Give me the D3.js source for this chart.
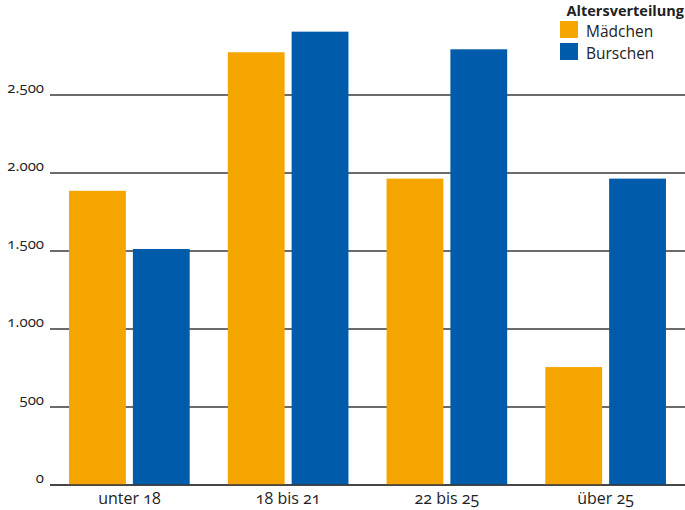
<!DOCTYPE html>
<html><head><meta charset="utf-8">
<script src="https://cdn.jsdelivr.net/npm/d3@7"></script>
<style>
body{margin:0;background:#fff;}
text{font-family:"Open Sans","Noto Sans",sans-serif;font-variant-numeric:oldstyle-nums;}
</style></head>
<body><svg id="c" width="685" height="510"></svg>
<script>
const categories = ["unter 18","18 bis 21","22 bis 25","über 25"];
const seriesNames = ["Mädchen","Burschen"];
const maedchen = [1886, 2774, 1964, 756];
const burschen = [1513, 2906, 2793, 1964];
const yTicks = [0,500,1000,1500,2000,2500];
const legendTitle = "Altersverteilung";
const colors = ["#F5A500","#005BAA"];

const svg = d3.select("#c");
const x0 = d3.scaleBand().domain(categories).range([50,685]).paddingInner(0.24).paddingOuter(0.12);
const x1 = d3.scaleBand().domain(seriesNames).range([0,x0.bandwidth()]).paddingInner(0.11);
const y = d3.scaleLinear().domain([0,2500]).range([485,95]);
const fmt = v => d3.format(",")(v).replace(/,/g,".");

svg.append("g").selectAll("line").data(yTicks).join("line")
  .attr("x1",50).attr("x2",685)
  .attr("y1",d=>y(d)).attr("y2",d=>y(d))
  .attr("stroke","#3a3a3a").attr("stroke-width",1.6);

const yAxis = d3.axisLeft(y).tickValues(yTicks).tickFormat(fmt).tickSize(0).tickPadding(0);
const ga = svg.append("g").attr("transform","translate(44,0)").call(yAxis);
ga.select(".domain").remove();
ga.selectAll("text").attr("font-size",15).attr("fill","#222").attr("dy","-0.2em");

const data = categories.map((c,i)=>({c, vals:[maedchen[i],burschen[i]]}));
svg.append("g").selectAll("g").data(data).join("g")
  .attr("transform",d=>`translate(${x0(d.c)},0)`)
  .selectAll("rect").data(d=>d.vals.map((v,j)=>({s:seriesNames[j],v,j}))).join("rect")
  .attr("x",d=>x1(d.s)).attr("width",x1.bandwidth())
  .attr("y",d=>y(d.v)).attr("height",d=>y(0)-y(d.v))
  .attr("fill",d=>colors[d.j]);

svg.append("line").attr("x1",50).attr("x2",685).attr("y1",y(0)).attr("y2",y(0))
  .attr("stroke","#3a3a3a").attr("stroke-width",1.6);

const xAxis = d3.axisBottom(x0).tickSize(0).tickPadding(0);
const gx = svg.append("g").attr("transform",`translate(0,${y(0)})`).call(xAxis);
gx.select(".domain").remove();
gx.selectAll("text").attr("font-size",16).attr("fill","#222").attr("dy","1.2em");

const lg = svg.append("g");
lg.append("text").attr("x",684).attr("y",16).attr("text-anchor","end")
  .attr("font-weight","bold").attr("font-size",14.5).attr("fill","#222").text(legendTitle);
seriesNames.forEach((s,i)=>{
  lg.append("rect").attr("x",560).attr("y",21+i*22).attr("width",18).attr("height",17).attr("fill",colors[i]);
  lg.append("text").attr("x",586).attr("y",37+i*22).attr("font-size",15.5).attr("fill","#222").text(s);
});
</script></body></html>
